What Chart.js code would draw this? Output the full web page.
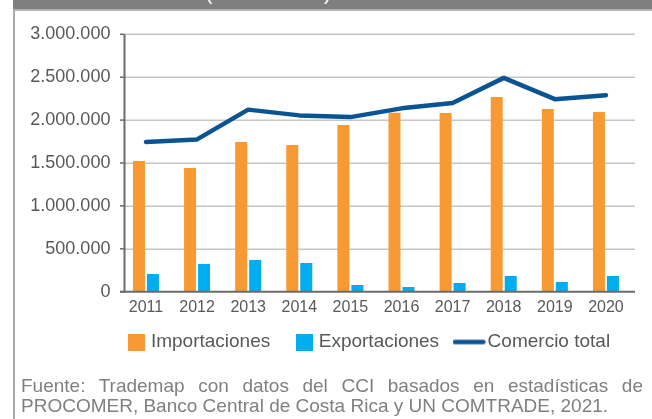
<!DOCTYPE html>
<html>
<head>
<meta charset="utf-8">
<script src="https://cdn.jsdelivr.net/npm/chart.js@4"></script>
<style>
  html, body { margin: 0; padding: 0; background: #ffffff; }
  #wrap { position: relative; width: 652px; height: 419px; overflow: hidden; background: #fff; }
  #header { position: absolute; left: 13px; top: 0; width: 639px; height: 9px; background: #7f7f80; overflow: hidden; }
  #headerLine { position: absolute; left: 13px; top: 9px; width: 639px; height: 2px; background: #b4b4b5; }
  #leftLine { position: absolute; left: 13px; top: 9px; width: 2px; height: 410px; background: #a9a9a9; }
  .paren { position: absolute; top: -17px; color: #ffffff; font: 19px "Liberation Sans", Arial, sans-serif; }
  #chart { position: absolute; left: 0; top: 0; }
  #footer { position: absolute; left: 21px; top: 375.5px; width: 622px; font: 19px "Liberation Sans", Arial, sans-serif; line-height: 20px; color: #808080; }
  #footer .l1 { text-align: justify; text-align-last: justify; white-space: nowrap; display: block; }
  #footer .l2 { display: block; white-space: nowrap; }
</style>
</head>
<body>
<div id="wrap">
  <div id="header"><span class="paren" style="left:193px">(</span><span class="paren" style="left:311px">)</span></div>
  <div id="headerLine"></div>
  <div id="leftLine"></div>
  <canvas id="chart" width="652" height="419"></canvas>
  <div id="footer"><span class="l1">Fuente: Trademap con datos del CCI basados en estadísticas de</span><span class="l2">PROCOMER, Banco Central de Costa Rica y UN COMTRADE, 2021.</span></div>
</div>
<script>
// ---- Data ----
const years = ['2011', '2012', '2013', '2014', '2015', '2016', '2017', '2018', '2019', '2020'];
const importaciones = [1523000, 1442000, 1745000, 1710000, 1943000, 2086000, 2083000, 2269000, 2129000, 2094000];
const exportaciones = [206000, 323000, 370000, 335000, 78000, 55000, 101000, 183000, 113000, 183000];
const comercioTotal = [1745000, 1775000, 2122000, 2055000, 2035000, 2137000, 2200000, 2492000, 2244000, 2290000];
const seriesNames = ['Importaciones', 'Exportaciones', 'Comercio total'];
const yTicks = [0, 500000, 1000000, 1500000, 2000000, 2500000, 3000000];

const ORANGE = '#f79a33';
const BLUE = '#00adef';
const NAVY = '#0b5494';
const TEXT = '#595959';
const FONT = '"Liberation Sans", Arial, sans-serif';

function fmt(v) { return String(v).replace(/\B(?=(\d{3})+(?!\d))/g, '.'); }

function squareImg(color) {
  const c = document.createElement('canvas');
  c.width = 17; c.height = 17;
  const x = c.getContext('2d');
  x.fillStyle = color; x.fillRect(0, 0, 17, 17);
  return c;
}
function lineImg(color) {
  const c = document.createElement('canvas');
  c.width = 41; c.height = 7;
  const x = c.getContext('2d');
  x.strokeStyle = color; x.lineWidth = 4.5; x.lineCap = 'round';
  x.beginPath(); x.moveTo(2.25, 3.5); x.lineTo(30.75, 3.5); x.stroke();
  return c;
}
const legendImgs = [squareImg(ORANGE), squareImg(BLUE), lineImg(NAVY)];

const LEGEND_UP = 13.2;
const axisPlugin = {
  id: 'axisPlugin',
  afterLayout(chart) {
    const lg = chart.legend;
    if (lg) { lg.left += 55; lg.right += 55; lg.top -= LEGEND_UP; lg.bottom -= LEGEND_UP; }
  },
  beforeDatasetsDraw(chart) {
    const ctx = chart.ctx, y = chart.scales.y;
    ctx.save();
    ctx.strokeStyle = '#c6c6c6';
    ctx.lineWidth = 1.5;
    yTicks.forEach(v => {
      if (v === 0) return;
      const py = Math.round(y.getPixelForValue(v)) + 0.25;
      ctx.beginPath(); ctx.moveTo(124, py); ctx.lineTo(635, py); ctx.stroke();
    });
    ctx.restore();
  },
  afterDatasetsDraw(chart) {
    const ctx = chart.ctx, y = chart.scales.y;
    const y0 = y.getPixelForValue(0), yTop = y.getPixelForValue(3000000);
    ctx.save();
    ctx.strokeStyle = '#6b6b6b';
    ctx.lineWidth = 2;
    ctx.beginPath(); ctx.moveTo(124.5, yTop); ctx.lineTo(124.5, y0 + 1); ctx.stroke();
    ctx.beginPath(); ctx.moveTo(120, y0); ctx.lineTo(635, y0); ctx.stroke();
    ctx.lineWidth = 1.5;
    yTicks.forEach(v => {
      const py = y.getPixelForValue(v);
      ctx.beginPath(); ctx.moveTo(120, py); ctx.lineTo(124, py); ctx.stroke();
    });
    ctx.restore();
  }
};

new Chart(document.getElementById('chart'), {
  data: {
    labels: years,
    datasets: [
      { type: 'line', label: seriesNames[2], data: comercioTotal, borderColor: NAVY, backgroundColor: NAVY,
        borderWidth: 4.5, pointRadius: 0, tension: 0, borderCapStyle: 'round', borderJoinStyle: 'round', order: 0 },
      { type: 'bar', label: seriesNames[0], data: importaciones, backgroundColor: ORANGE, order: 1,
        categoryPercentage: 0.548, barPercentage: 0.857 },
      { type: 'bar', label: seriesNames[1], data: exportaciones, backgroundColor: BLUE, order: 1,
        categoryPercentage: 0.548, barPercentage: 0.857 }
    ]
  },
  options: {
    responsive: false,
    animation: false,
    devicePixelRatio: 1,
    layout: { padding: { top: 34.3, left: 0, right: 20.5, bottom: 57.5 - LEGEND_UP } },
    scales: {
      x: {
        type: 'category',
        offset: true,
        grid: { display: false, drawTicks: false },
        border: { display: false },
        ticks: { color: TEXT, font: { family: FONT, size: 16 }, padding: 6, maxRotation: 0, autoSkip: false },
        afterFit(s) { s.height = 11.8 + LEGEND_UP; }
      },
      y: {
        min: 0, max: 3000000,
        grid: { display: false, drawTicks: false },
        border: { display: false },
        ticks: { stepSize: 500000, color: TEXT, font: { family: FONT, size: 18 }, padding: 10,
          callback: v => fmt(v) },
        afterFit(s) { s.width = 120.4; }
      }
    },
    plugins: {
      title: { display: false },
      tooltip: { enabled: false },
      legend: {
        position: 'bottom',
        fullSize: true,
        align: 'center',
        labels: {
          usePointStyle: true,
          boxWidth: 10,
          boxHeight: 17,
          padding: 29,
          color: TEXT,
          font: { family: FONT, size: 19 },
          generateLabels(chart) {
            const order = [1, 2, 0];
            return order.map((di, k) => ({
              text: chart.data.datasets[di].label,
              datasetIndex: di,
              fillStyle: chart.data.datasets[di].backgroundColor,
              strokeStyle: chart.data.datasets[di].borderColor || chart.data.datasets[di].backgroundColor,
              lineWidth: 0,
              pointStyle: legendImgs[k],
              fontColor: TEXT,
              hidden: false
            }));
          }
        }
      }
    }
  },
  plugins: [axisPlugin]
});
</script>
</body>
</html>
